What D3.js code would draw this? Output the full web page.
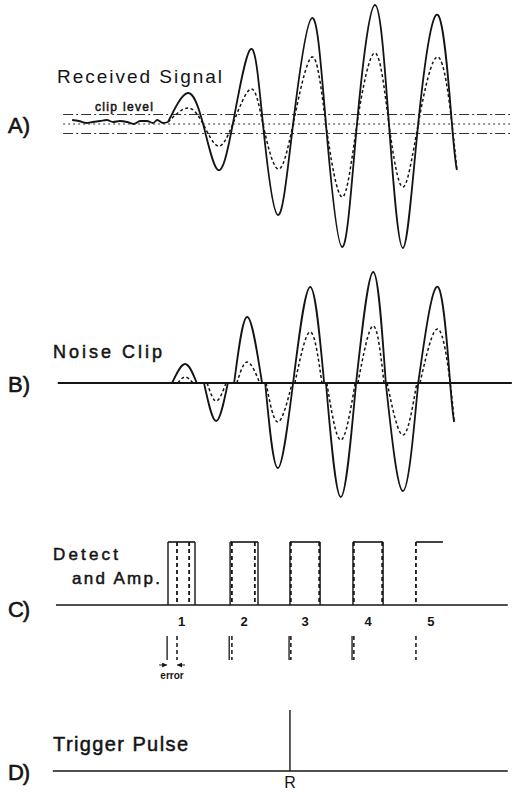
<!DOCTYPE html>
<html>
<head>
<meta charset="utf-8">
<script src="https://cdn.jsdelivr.net/npm/d3@7"></script>
<style>
  body { margin: 0; background: #fff; }
  svg { display: block; }
  text { font-family: "Liberation Sans", Arial, sans-serif; fill: #141414; }
</style>
</head>
<body>
<svg id="chart" width="513" height="792"></svg>
<script>
// ---- data (time in arbitrary units 0..100 along the trace) ----

// A) received signal: noise before the echo
const noiseT = [2.7, 4.2, 5.8, 7.3, 8.9, 10.4, 11.8, 13.3, 14.9, 16.4, 17.8, 19.3, 20.7, 21.6, 22.9, 24]
const noiseV = [0.04, 0.03, 0.01, 0.02, 0.03, 0.04, 0.02, 0.03, 0.02, 0.0, 0.03, 0.03, 0.01, 0.04, 0.01, 0.02]

// A) echo: extrema and zero crossings
const echoT = [24, 28.4, 31.8, 35.1, 38.4, 42.4, 45.1, 48.4, 51.8, 56, 59.1, 62.7, 66, 70, 73.1, 76.2, 79.6, 84, 87.1, 88.2]
const echoSolid = [0.02, 0.31, 0, -0.46, 0, 0.75, 0, -0.91, 0, 1.06, 0, -1.23, 0, 1.19, 0, -1.24, 0, 1.09, 0, -0.46]
const echoDashed = [0.02, 0.16, 0, -0.22, 0, 0.35, 0, -0.45, 0, 0.67, 0, -0.73, 0, 0.71, 0, -0.63, 0, 0.67, 0, -0.46]
const clipLevel = 0.095

// B) noise clip: lobes left after clipping
const lobeStart = [24.9, 32, 38.7, 45.6, 51.8, 59.1, 65.8, 72.4, 79.6]
const lobePeakT = [27.8, 34.7, 41.6, 48.4, 55.6, 62.4, 69.6, 76.2, 84]
const lobeEnd = [30.4, 37.3, 44.9, 51.8, 58.7, 65.8, 72.4, 79.6, 86.7]
const lobeSolid = [0.19, -0.38, 0.66, -0.85, 0.96, -1.14, 1.11, -1.08, 0.96]
const dLobeStart = [26.2, 32.7, 39.3, 45.8, 52.2, 59.3, 66.2, 72.7, 80]
const dLobeEnd = [29.6, 36.9, 44.4, 51.6, 58.2, 65.6, 72, 79.3, 86.7]
const lobeDashed = [0.06, -0.18, 0.21, -0.39, 0.51, -0.57, 0.57, -0.52, 0.54]
const tailT = 87.6
const tailV = -0.39

// C) detect and amp: pulses
const pulseLabels = ['1', '2', '3', '4', '5']
const pulseStart = [24, 37.8, 51.1, 65.1, null]
const pulseEnd = [30, 44, 57.8, 71.8, null]
const dPulseStart = [26, 38.2, 51.3, 65.3, 79.1]
const dPulseEnd = [28.7, 43.3, 57.6, 71.6, null]
const lastTopEnd = 85.1

// D) trigger
const triggerT = 51.1

// ---- drawing ----
const svg = d3.select('#chart')
const x = d3.scaleLinear().domain([0, 100]).range([60, 510])
const yA = d3.scaleLinear().domain([-1, 1]).range([224, 24])
const yB = d3.scaleLinear().domain([-1, 1]).range([483, 283])
const yC = d3.scaleLinear().domain([0, 1]).range([605, 542])
const yD = 771

const ink = '#141414'
const noiseLine = d3.line().x(d => x(d[0])).y(d => yA(d[1])).curve(d3.curveMonotoneX)
const echoLine = d3.line().x(d => x(d[0])).y(d => yA(d[1])).curve(d3.curveNatural)

function label(txt, px, py, size, len, heavy) {
    const t = svg.append('text')
        .attr('x', px).attr('y', py)
        .attr('font-size', size)
        .text(txt)
    if (len) t.attr('textLength', len).attr('lengthAdjust', 'spacing')
    if (heavy) t.attr('stroke', '#141414').attr('stroke-width', heavy)
    return t
}

// panel letters
label('A)', 8, 133, 22, 22, 0.6)
label('B)', 8, 392, 22, 22, 0.6)
label('C)', 8, 617, 22, 22, 0.6)
label('D)', 8, 780, 22, 22, 0.6)

// ----- A -----
label('Received Signal', 57, 83, 19, 165)
label('clip level', 95, 111, 12, 58, 0.5)

const clipDash = ['10,3,2,3', '2,3', '10,3,2,3']
;[clipLevel, 0, -clipLevel].forEach((v, i) => {
    svg.append('line')
        .attr('x1', x(0.7)).attr('x2', x(100))
        .attr('y1', yA(v)).attr('y2', yA(v))
        .attr('stroke', '#333').attr('stroke-width', 1)
        .attr('stroke-dasharray', clipDash[i])
})

const noisePts = noiseT.map((t, i) => [t, noiseV[i]])
const solidPts = echoT.map((t, i) => [t, echoSolid[i]])
const dashedPts = echoT.map((t, i) => [t, echoDashed[i]])

svg.append('path')
    .attr('d', noiseLine(noisePts))
    .attr('fill', 'none').attr('stroke', ink).attr('stroke-width', 1.8)
svg.append('path')
    .attr('d', echoLine(solidPts))
    .attr('fill', 'none').attr('stroke', ink).attr('stroke-width', 1.8)
svg.append('path')
    .attr('d', echoLine(dashedPts))
    .attr('fill', 'none').attr('stroke', ink).attr('stroke-width', 1.5)
    .attr('stroke-dasharray', '3,2.5')

// ----- B -----
label('Noise Clip', 53, 358, 18, 109, 0.5)

svg.append('line')
    .attr('x1', x(-0.5)).attr('x2', x(100.4))
    .attr('y1', yB(0)).attr('y2', yB(0))
    .attr('stroke', ink).attr('stroke-width', 1.8)

const lobeLine = d3.line().x(d => x(d[0])).y(d => yB(d[1])).curve(d3.curveNatural)
lobeStart.forEach((s, i) => {
    const last = i === lobeStart.length - 1
    const sp = [[s, 0], [lobePeakT[i], lobeSolid[i]], [lobeEnd[i], 0]]
    const dp = [[dLobeStart[i], 0], [lobePeakT[i], lobeDashed[i]], [dLobeEnd[i], 0]]
    if (last) { sp.push([tailT, tailV]); dp.push([tailT, tailV]) }
    svg.append('path').attr('d', lobeLine(sp))
        .attr('fill', 'none').attr('stroke', ink).attr('stroke-width', 1.8)
    svg.append('path').attr('d', lobeLine(dp))
        .attr('fill', 'none').attr('stroke', ink).attr('stroke-width', 1.5)
        .attr('stroke-dasharray', '3,2.5')
})

// ----- C -----
label('Detect', 53, 560, 17, 65, 0.5)
label('and Amp.', 72, 584, 17, 88, 0.5)

svg.append('line')
    .attr('x1', x(-0.9)).attr('x2', x(99.5))
    .attr('y1', yC(0)).attr('y2', yC(0))
    .attr('stroke', ink).attr('stroke-width', 1.6)

const vline = (t, y1, y2, dashed, w) => svg.append('line')
    .attr('x1', x(t)).attr('x2', x(t))
    .attr('y1', y1).attr('y2', y2)
    .attr('stroke', ink).attr('stroke-width', w || 1.4)
    .attr('stroke-dasharray', dashed ? '4,3' : null)

pulseLabels.forEach((lab, i) => {
    const top = yC(1)
    const leftT = pulseStart[i] != null ? pulseStart[i] : dPulseStart[i]
    const rightT = pulseEnd[i] != null ? pulseEnd[i] : lastTopEnd
    svg.append('line')
        .attr('x1', x(leftT)).attr('x2', x(rightT))
        .attr('y1', top).attr('y2', top)
        .attr('stroke', ink).attr('stroke-width', 1.6)
    if (pulseStart[i] != null) vline(pulseStart[i], top, yC(0), false)
    if (pulseEnd[i] != null) vline(pulseEnd[i], top, yC(0), false)
    vline(dPulseStart[i], top, yC(0), true, 1.8)
    if (dPulseEnd[i] != null) vline(dPulseEnd[i], top, yC(0), true, 1.8)

    // pulse number
    const mid = (leftT + (pulseEnd[i] != null ? pulseEnd[i] : leftT + 6.6)) / 2
    svg.append('text')
        .attr('x', x(mid)).attr('y', 626)
        .attr('text-anchor', 'middle')
        .attr('font-size', 13).attr('font-weight', 'bold')
        .text(lab)

    // leading-edge marks
    if (pulseStart[i] != null) vline(pulseStart[i] - 0.2, 636, 660, false, 1.3)
    vline(dPulseStart[i], 636, 660, true, 1.5)
})

// error arrows under pulse 1
const arrowY = 665
svg.append('defs').append('marker')
    .attr('id', 'ah').attr('viewBox', '0 0 6 6')
    .attr('refX', 6).attr('refY', 3)
    .attr('markerWidth', 5).attr('markerHeight', 5)
    .attr('orient', 'auto')
    .append('path').attr('d', 'M0,0L6,3L0,6Z').attr('fill', ink)
const e0 = x(pulseStart[0] - 0.2), e1 = x(dPulseStart[0])
svg.append('line').attr('x1', e0 - 8).attr('x2', e0)
    .attr('y1', arrowY).attr('y2', arrowY)
    .attr('stroke', ink).attr('stroke-width', 1).attr('marker-end', 'url(#ah)')
svg.append('line').attr('x1', e1 + 8).attr('x2', e1)
    .attr('y1', arrowY).attr('y2', arrowY)
    .attr('stroke', ink).attr('stroke-width', 1).attr('marker-end', 'url(#ah)')
svg.append('text')
    .attr('x', (e0 + e1) / 2).attr('y', 679)
    .attr('text-anchor', 'middle')
    .attr('font-size', 10).attr('font-weight', 'bold')
    .text('error')

// ----- D -----
label('Trigger Pulse', 53, 751, 20, 135, 0.5)
svg.append('line')
    .attr('x1', x(-1.6)).attr('x2', x(99.5))
    .attr('y1', yD).attr('y2', yD)
    .attr('stroke', ink).attr('stroke-width', 1.6)
vline(triggerT, 710, yD, false, 1.4)
svg.append('text')
    .attr('x', x(triggerT)).attr('y', 788)
    .attr('text-anchor', 'middle')
    .attr('font-size', 16)
    .text('R')
</script>
</body>
</html>
